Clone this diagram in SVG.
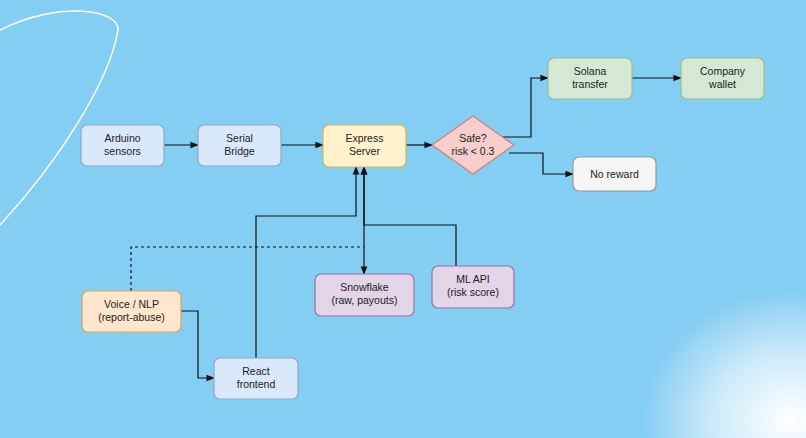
<svg xmlns="http://www.w3.org/2000/svg" width="806" height="438" viewBox="0 0 806 438">
<style>
.n{stroke-width:1.2}
.b{fill:#dae8fc;stroke:#8fa9cf}
.y{fill:#fff2cc;stroke:#d6b656}
.g{fill:#d5e8d4;stroke:#9bbf8f}
.p{fill:#e1d5e7;stroke:#9673a6}
.o{fill:#ffe6cc;stroke:#d7a75a}
.w{fill:#f5f5f5;stroke:#999}
.r{fill:#f8cecc;stroke:#c9827f}
text{font-family:"Liberation Sans",Arial,sans-serif;font-size:10.5px;fill:#222;text-anchor:middle}
.e{fill:none;stroke:#111;stroke-width:1.2}
</style>
<defs>
<marker id="a" viewBox="0 0 10 10" refX="9" refY="5" markerWidth="7" markerHeight="7" orient="auto-start-reverse"><path d="M0,1 L10,5 L0,9 z" fill="#111"/></marker>
<radialGradient id="gl" cx="0.5" cy="0.5" r="0.5"><stop offset="0" stop-color="#fff" stop-opacity="1"/><stop offset="0.5" stop-color="#fff" stop-opacity="0.6"/><stop offset="1" stop-color="#fff" stop-opacity="0"/></radialGradient>
</defs>
<rect width="806" height="438" fill="#84cdf3"/>
<ellipse cx="790" cy="420" rx="150" ry="130" fill="url(#gl)"/>
<path d="M0,30 C60,0 120,10 118,30 C110,80 60,160 0,225" fill="none" stroke="#fff" stroke-width="1.5"/>
<g id="connectors">
<path class="e" d="M164,145 H198" marker-end="url(#a)"/>
<path class="e" d="M281,145 H323" marker-end="url(#a)"/>
<path class="e" d="M406,145 H432" marker-end="url(#a)"/>
<path class="e" d="M503,137 H531 V78 H548" marker-end="url(#a)"/>
<path class="e" d="M632,78 H681" marker-end="url(#a)"/>
<path class="e" d="M509,153 H543 V174 H573" marker-end="url(#a)"/>
<path class="e" d="M364,167 V274" marker-start="url(#a)" marker-end="url(#a)"/>
<path class="e" d="M456,266 V225 H364 V167" marker-end="url(#a)"/>
<path class="e" d="M256,358 V216 H356 V167" marker-end="url(#a)"/>
<path class="e" d="M131,291 V247 H364" stroke-dasharray="3,3"/>
<path class="e" d="M181,311 H198 V378 H214" marker-end="url(#a)"/>
</g>
<g id="arduino"><rect class="n b" x="81" y="125" width="83" height="41" rx="6"/><text x="122.5" y="142">Arduino</text><text x="122.5" y="155">sensors</text></g>
<g id="serial"><rect class="n b" x="198" y="125" width="83" height="41" rx="6"/><text x="239.5" y="142">Serial</text><text x="239.5" y="155">Bridge</text></g>
<g id="express"><rect class="n y" x="323" y="125" width="83" height="42" rx="6"/><text x="364.5" y="142">Express</text><text x="364.5" y="155">Server</text></g>
<g id="safe"><path class="n r" d="M473,116 L514,145 L473,174 L432,145 Z"/><text x="473" y="142">Safe?</text><text x="473" y="155">risk &lt; 0.3</text></g>
<g id="solana"><rect class="n g" x="548" y="58" width="84" height="41" rx="6"/><text x="590" y="75">Solana</text><text x="590" y="88">transfer</text></g>
<g id="wallet"><rect class="n g" x="681" y="58" width="83" height="41" rx="6"/><text x="722.5" y="75">Company</text><text x="722.5" y="88">wallet</text></g>
<g id="noreward"><rect class="n w" x="573" y="157" width="83" height="34" rx="6"/><text x="614.5" y="178">No reward</text></g>
<g id="snowflake"><rect class="n p" x="315" y="274" width="99" height="42" rx="6"/><text x="364.5" y="291">Snowflake</text><text x="364.5" y="304">(raw, payouts)</text></g>
<g id="mlapi"><rect class="n p" x="432" y="266" width="82" height="42" rx="6"/><text x="473" y="283">ML API</text><text x="473" y="296">(risk score)</text></g>
<g id="voice"><rect class="n o" x="82" y="291" width="99" height="41" rx="6"/><text x="131.5" y="308">Voice / NLP</text><text x="131.5" y="321">(report-abuse)</text></g>
<g id="react"><rect class="n b" x="214" y="358" width="84" height="41" rx="6"/><text x="256" y="375">React</text><text x="256" y="388">frontend</text></g>
</svg>
